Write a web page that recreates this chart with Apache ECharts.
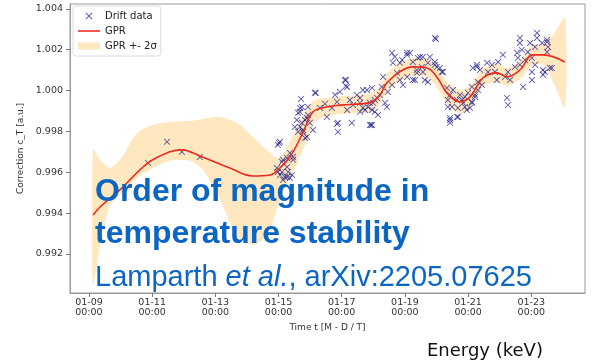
<!DOCTYPE html>
<html>
<head>
<meta charset="utf-8">
<script src="https://cdn.jsdelivr.net/npm/echarts@6/dist/echarts.min.js"></script>
<style>
  html, body { margin: 0; padding: 0; background: #fff; }
  #chart { width: 592px; height: 363px; }
</style>
</head>
<body>
<div id="chart"></div>
<script>
// Time in days of January, correction factor c_T in arbitrary units
const xTickDays = [9, 11, 13, 15, 17, 19, 21, 23];
const yTickValues = [0.992, 0.994, 0.996, 0.998, 1.000, 1.002, 1.004];

// Drift measurements
const driftDays = [
  10.87, 11.47, 11.94, 12.51,
  15.05, 14.98, 15.36, 15.27, 15.11, 15.46, 14.95, 14.98, 15.30, 15.27, 15.14, 15.36, 15.05,
  15.68, 15.62, 15.74, 15.77, 15.90, 15.84, 15.93,
  15.14, 15.46, 15.27, 15.11, 15.20, 15.43, 15.58, 15.52, 15.62, 15.68, 15.74, 15.77, 15.84,
  15.90, 15.99, 15.93, 16.09, 15.71, 16.15, 16.31, 16.47, 16.53, 16.69, 16.79, 16.88, 16.88,
  16.94, 16.85, 17.10, 17.17, 17.17, 17.32, 17.36, 17.26, 17.48, 17.58, 17.58, 17.67, 17.74,
  17.83, 17.89, 17.96, 17.99, 18.05, 18.12,
  17.58, 17.80, 17.89, 17.67, 17.96, 18.05, 18.21, 18.27, 18.31, 18.37, 18.46, 18.59, 18.59,
  18.68, 18.62, 18.75, 18.84, 18.94, 18.91, 19.07, 19.16, 19.25, 19.32, 19.38, 19.48, 19.54,
  19.57, 19.73, 19.79, 19.95, 20.01, 20.17, 19.98, 18.15, 18.43, 17.96,
  20.36, 20.43, 20.65, 20.49, 20.68, 20.84, 20.96, 21.12, 21.22, 21.31, 21.15, 21.28, 20.90, 20.74,
  18.84, 19.07, 19.41, 19.57, 19.73, 19.95, 20.11, 19.95, 19.07, 19.25, 19.63, 19.38, 20.20,
  20.33, 20.43, 20.36, 20.43, 20.43, 20.68, 20.52, 20.65, 20.81, 20.90, 21.06, 21.12, 21.00,
  21.22, 21.12, 21.28, 21.38, 21.44, 21.31, 21.60, 21.63, 21.76, 21.85, 21.91, 21.95, 22.10,
  22.17, 22.26, 22.33, 22.23, 22.26, 22.48, 22.55, 22.58, 22.64, 22.74, 22.70, 22.80, 22.89,
  22.96, 23.02, 23.18, 23.18, 23.12, 23.34, 23.50, 23.50, 23.53, 23.02, 23.02, 23.37, 23.37,
  23.65, 23.12, 22.64, 22.64, 23.50, 23.43, 23.59,
  15.01, 16.18, 15.68, 17.13, 17.13, 16.85, 17.93
];
const driftValues = [
  0.99646, 0.99749, 0.99700, 0.99675,
  0.99749, 0.99734, 0.99695, 0.99670, 0.99651, 0.99675, 0.99621, 0.99602, 0.99602, 0.99577, 0.99563, 0.99572, 0.99587,
  0.99822, 0.99891, 0.99920, 0.99798, 0.99773, 0.99856, 0.99881,
  0.99661, 0.99661, 0.99626, 0.99602, 0.99577, 0.99587, 0.99856, 0.99822, 0.99798, 0.99896, 0.99842, 0.99807, 0.99768,
  0.99866, 0.99842, 0.99920, 0.99807, 0.99959, 0.99989, 0.99915, 0.99935, 0.99871, 0.99915, 0.99979, 0.99842, 0.99798,
  0.99994, 0.99945, 1.00052, 1.00018, 0.99905, 0.99842, 0.99930, 0.99954, 0.99979, 0.99940, 0.99896, 1.00003, 0.99905,
  0.99920, 0.99832, 1.00013, 0.99940, 0.99896, 0.99964,
  0.99964, 1.00003, 0.99940, 0.99915, 0.99905, 0.99954, 0.99979, 1.00018, 1.00067, 0.99940, 0.99994, 1.00028, 1.00185,
  1.00165, 1.00136, 1.00087, 1.00052, 1.00028, 1.00150, 1.00185, 1.00185, 1.00140, 1.00052, 1.00101, 1.00165, 1.00116,
  1.00091, 1.00042, 1.00165, 1.00140, 1.00116, 1.00091, 1.00253, 0.99881, 0.99920, 0.99832,
  0.99954, 0.99856, 0.99871, 0.99920, 0.99915, 0.99940, 0.99905, 0.99940, 0.99969, 1.00003, 1.00111, 1.00116, 0.99969, 0.99979,
  1.00136, 1.00175, 1.00160, 1.00165, 1.00136, 1.00126, 1.00111, 1.00258, 1.00067, 1.00052, 1.00052, 1.00087, 1.00091,
  1.00013, 0.99979, 0.99920, 0.99866, 0.99842, 0.99871, 1.00003, 0.99954, 0.99954, 0.99920, 0.99915, 0.99945, 0.99989,
  0.99979, 1.00018, 1.00126, 1.00101, 1.00028, 1.00042, 1.00136, 1.00091, 1.00126, 1.00091, 1.00052, 1.00140, 1.00175,
  1.00067, 1.00091, 1.00052, 0.99964, 0.99930, 1.00116, 1.00185, 1.00160, 1.00126, 1.00018, 1.00199, 1.00150, 1.00189,
  1.00233, 1.00160, 1.00282, 1.00258, 1.00214, 1.00233, 1.00238, 1.00189, 1.00214, 1.00091, 1.00052, 1.00101, 1.00077,
  1.00111, 1.00126, 1.00258, 1.00233, 1.00248, 1.00091, 1.00111,
  0.99744, 0.99989, 0.99915, 1.00052, 1.00023, 0.99837, 0.99832
];

// Gaussian process regression mean
const gprDays = [
  9.13, 9.35, 9.98, 10.87, 11.56, 11.94, 12.51, 13.46, 14.19, 14.73, 15.04, 15.36, 15.77,
  16.09, 16.53, 17.04, 17.58, 17.96, 18.21, 18.43, 18.84, 19.25, 19.70, 20.01, 20.33, 20.74,
  21.06, 21.47, 21.91, 22.23, 22.64, 23.05, 23.37, 24.06
];
const gprValues = [
  0.99391, 0.99430, 0.99514, 0.99646, 0.99700, 0.99710, 0.99680, 0.99621, 0.99582, 0.99587, 0.99621, 0.99675, 0.99793,
  0.99896, 0.99920, 0.99930, 0.99935, 0.99945, 0.99979, 1.00038, 1.00092, 1.00116, 1.00111, 1.00067, 0.99989, 0.99945,
  0.99969, 1.00062, 1.00087, 1.00067, 1.00101, 1.00175, 1.00175, 1.00140
];

// GPR +- 2 sigma envelope
const bandDays = [
  9.13, 9.35, 9.66, 9.98, 10.52, 11.03, 11.56, 12.20, 12.61, 13.15, 13.68, 14.19, 14.63,
  14.95, 15.20, 15.52, 15.84, 16.15, 16.53, 17.04, 17.58, 17.96, 18.21, 18.43, 18.84, 19.25,
  19.70, 20.01, 20.33, 20.74, 21.06, 21.47, 21.91, 22.23, 22.64, 23.05, 23.43, 23.75, 24.07
];
const bandHigh = [
  0.99709, 0.99661, 0.99621, 0.99661, 0.99793, 0.99832, 0.99847, 0.99851, 0.99861, 0.99871, 0.99842, 0.99773, 0.99709,
  0.99670, 0.99700, 0.99798, 0.99896, 0.99954, 0.99964, 0.99974, 0.99979, 0.99989, 1.00023, 1.00082, 1.00136, 1.00160,
  1.00155, 1.00116, 1.00042, 1.00003, 1.00023, 1.00106, 1.00131, 1.00111, 1.00145, 1.00224, 1.00224, 1.00287, 1.00356
];
const bandLow = [
  0.99048, 0.99244, 0.99440, 0.99489, 0.99572, 0.99621, 0.99656, 0.99656, 0.99612, 0.99465, 0.99293, 0.99244, 0.99293,
  0.99416, 0.99523, 0.99621, 0.99734, 0.99847, 0.99876, 0.99886, 0.99891, 0.99900, 0.99935, 0.99994, 1.00047, 1.00072,
  1.00067, 1.00018, 0.99935, 0.99886, 0.99915, 1.00018, 1.00042, 1.00023, 1.00057, 1.00126, 1.00121, 1.00023, 0.99915
];

const blue = '#0b66c3';
const bandFill = 'rgba(255,175,45,0.3)';
const crossPath = 'path://M1,0 L5,4 L9,0 L10,1 L6,5 L10,9 L9,10 L5,6 L1,10 L0,9 L4,5 L0,1 Z';
const linePath = 'path://M0,0 L22,0 L22,1.6 L0,1.6 Z';
const pad2 = n => (n < 10 ? '0' : '') + n;

const chart = echarts.init(document.getElementById('chart'), null, { renderer: 'canvas' });

const option = {
  animation: false,
  backgroundColor: '#fff',
  textStyle: { fontFamily: '"DejaVu Sans", sans-serif' },
  grid: {
    left: 70, right: 7, top: 4, bottom: 70,
    show: true, borderColor: '#9a9a9a', borderWidth: 1, backgroundColor: 'transparent'
  },
  legend: {
    orient: 'vertical',
    left: 73, top: 6,
    padding: [5, 4, 5, 5],
    itemGap: 5,
    itemWidth: 22, itemHeight: 7,
    backgroundColor: '#fff',
    borderColor: '#dcdcdc', borderWidth: 1, borderRadius: 3,
    textStyle: { fontSize: 10, color: '#222', fontFamily: '"DejaVu Sans", sans-serif' },
    data: [
      { name: 'Drift data', icon: crossPath },
      { name: 'GPR', icon: linePath },
      { name: 'GPR +- 2σ', icon: 'rect' }
    ]
  },
  xAxis: {
    type: 'value',
    min: 8.40, max: 24.70,
    name: 'Time t [M - D / T]',
    nameLocation: 'middle',
    nameGap: 30,
    nameTextStyle: { fontSize: 9, color: '#333' },
    axisLine: { show: true, lineStyle: { color: '#9a9a9a', width: 1 } },
    axisTick: { show: true, customValues: xTickDays, length: 4, lineStyle: { color: '#777' } },
    axisLabel: {
      customValues: xTickDays,
      formatter: v => '01-' + pad2(Math.round(v)) + '\n00:00',
      fontSize: 9.5, lineHeight: 10, color: '#333', margin: 5
    },
    splitLine: { show: false }
  },
  yAxis: {
    type: 'value',
    min: 0.99009, max: 1.00424,
    name: 'Correction c_T [a.u.]',
    nameLocation: 'middle',
    nameGap: 34,
    nameTextStyle: { fontSize: 9, color: '#333' },
    axisLine: { show: true, lineStyle: { color: '#9a9a9a', width: 1 } },
    axisTick: { show: true, customValues: yTickValues, length: 4, lineStyle: { color: '#777' } },
    axisLabel: {
      customValues: yTickValues,
      formatter: v => v.toFixed(3),
      fontSize: 9.5, color: '#333', margin: 7
    },
    splitLine: { show: false }
  },
  series: [
    {
      name: 'GPR +- 2σ',
      type: 'custom',
      color: bandFill,
      z: 1,
      data: bandDays.map((d, i) => [d, bandLow[i], bandHigh[i]]),
      encode: { x: 0, y: [1, 2] },
      renderItem: function (params, api) {
        if (params.dataIndex !== 0) return null;
        const pts = [];
        for (let i = 0; i < bandDays.length; i++) pts.push(api.coord([bandDays[i], bandHigh[i]]));
        for (let i = bandDays.length - 1; i >= 0; i--) pts.push(api.coord([bandDays[i], bandLow[i]]));
        return {
          type: 'polygon',
          shape: { points: pts, smooth: 0.25 },
          style: { fill: bandFill, stroke: null }
        };
      }
    },
    {
      name: 'Drift data',
      type: 'scatter',
      z: 3,
      symbol: crossPath,
      symbolSize: 6.5,
      itemStyle: { color: 'rgba(20,20,130,0.85)' },
      data: driftDays.map((d, i) => [d, driftValues[i]])
    },
    {
      name: 'GPR',
      type: 'line',
      z: 4,
      smooth: 0.4,
      symbol: 'none',
      lineStyle: { color: '#ee2a1e', width: 1.6 },
      itemStyle: { color: '#ee2a1e' },
      data: gprDays.map((d, i) => [d, gprValues[i]])
    }
  ],
  graphic: [
    {
      type: 'text', z: 100,
      style: {
        x: 95, y: 192, verticalAlign: 'middle',
        text: 'Order of magnitude in',
        font: 'bold 32px "Liberation Sans", Arial, sans-serif',
        fill: blue
      }
    },
    {
      type: 'text', z: 100,
      style: {
        x: 95, y: 234, verticalAlign: 'middle',
        text: 'temperature stability',
        font: 'bold 32px "Liberation Sans", Arial, sans-serif',
        fill: blue
      }
    },
    {
      type: 'text', z: 100,
      style: {
        x: 95, y: 278, verticalAlign: 'middle',
        text: '{n|Lamparth }{i|et al.}{n|, arXiv:2205.07625}',
        rich: {
          n: { fontFamily: '"Liberation Sans", Arial, sans-serif', fontSize: 29, fill: blue, color: blue },
          i: { fontFamily: '"Liberation Sans", Arial, sans-serif', fontSize: 29, fontStyle: 'italic', fill: blue, color: blue }
        }
      }
    },
    {
      type: 'text', z: 100,
      style: {
        x: 427, y: 351, verticalAlign: 'middle',
        text: 'Energy (keV)',
        font: '18px "DejaVu Sans", sans-serif',
        fill: '#111'
      }
    }
  ]
};

chart.setOption(option);
</script>
</body>
</html>
